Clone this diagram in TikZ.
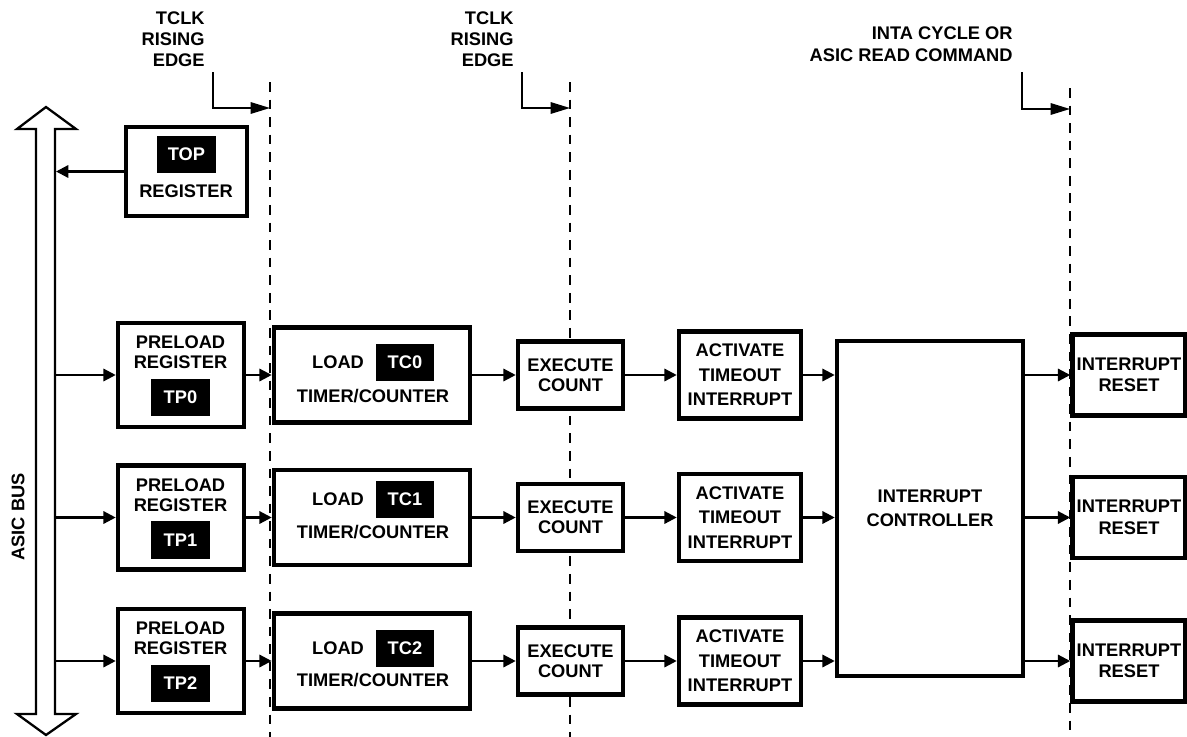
\documentclass[tikz,border=0pt]{standalone}
\usepackage{fontspec}
\setmainfont{Liberation Sans}
\usetikzlibrary{arrows.meta}
\newcommand\diaglbl{\bfseries\fontsize{10.4}{11.3}\selectfont}
\begin{document}
\begin{tikzpicture}[x=0.02cm,y=-0.02cm,
  box/.style={draw,line width=2.6pt,fill=white,inner sep=0pt,align=center,font=\diaglbl},
  txt/.style={inner sep=0pt,align=center,font=\diaglbl},
  tag/.style={fill=black,text=white,inner sep=0pt,font=\diaglbl,minimum width=1.18cm,minimum height=0.75cm},
  arr/.style={line width=1.3pt,-{Triangle[length=7pt,width=7pt]}},
  bent/.style={line width=1.0pt,-{Triangle[length=11pt,width=6.5pt]}},
  clk/.style={line width=0.8pt,dash pattern=on 5.5pt off 4.5pt},
  bus/.style={line width=1.3pt,line join=miter}
]
\useasboundingbox (0,0) rectangle (1187,737);

% timing lines
\coordinate (d1t) at (270,82);  \coordinate (d1b) at (270,737);
\coordinate (d2t) at (570,82);  \coordinate (d2b) at (570,737);
\coordinate (d3t) at (1070,88); \coordinate (d3b) at (1070,737);
\draw[clk] (d1t) -- (d1b);
\draw[clk] (d2t) -- (d2b);
\draw[clk] (d3t) -- (d3b);

% timing labels
\node[txt,align=right,anchor=east,font={\bfseries\fontsize{10.4}{11.9}\selectfont}] (lab1) at (205,39) {TCLK\\RISING\\EDGE};
\node[txt,align=right,anchor=east,font={\bfseries\fontsize{10.4}{11.9}\selectfont}] (lab2) at (514,39) {TCLK\\RISING\\EDGE};
\node[txt,align=right,anchor=east,font={\bfseries\fontsize{10.4}{12.5}\selectfont}] (lab3) at (1013,44) {INTA CYCLE OR\\ASIC READ COMMAND};
\coordinate (k1) at (213,72); \coordinate (k1e) at (270,108);
\coordinate (k2) at (522,72); \coordinate (k2e) at (570,108);
\coordinate (k3) at (1022,72); \coordinate (k3e) at (1070,109);
\draw[bent] (k1) |- (k1e);
\draw[bent] (k2) |- (k2e);
\draw[bent] (k3) |- (k3e);

% ASIC bus
\draw[bus] (46,107) -- (76,129) -- (55,129) -- (55,714) -- (76,714) -- (46,735)
  -- (17,714) -- (36,714) -- (36,129) -- (17,129) -- cycle;
\node[txt,rotate=90] (asic) at (18,517) {ASIC BUS};

% TOP register
\node[box,minimum width=2.42cm,minimum height=1.78cm] (top) at (186.5,171.5) {};
\node[tag] (toptag) at (186.5,154.5) {TOP};
\node[txt] (topreg) at (186,191) {REGISTER};
\coordinate (bt) at (56,171.5);
\draw[arr] (top.west) -- (bt);

% rows
\foreach \i/\y/\lo/\to in {0/375/-12.5/21.5, 1/517.5/-18.5/14.5, 2/661/-12.5/19.5}{
  \coordinate (b\i) at (56,\y);
  \node[box,minimum width=2.52cm,minimum height=2.08cm] (p\i) at (181,\y) {};
  \node[txt] (pt\i) at (180.5,\y-22.5) {PRELOAD\\REGISTER};
  \node[tag] (tp\i) at (180.5,\y+22.5) {TP\i};
  \node[box,minimum width=3.92cm,minimum height=1.90cm] (l\i) at (372,\y) {};
  \node[txt] (ld\i) at (338,\y+\lo) {LOAD};
  \node[tag,minimum width=1.16cm,minimum height=0.74cm] (tc\i) at (405,\y+\lo) {TC\i};
  \node[txt] (tm\i) at (373,\y+\to) {TIMER/COUNTER};
  \node[box,minimum width=2.10cm,minimum height=1.34cm] (e\i) at (570.5,\y) {EXECUTE\\COUNT};
  \node[box,minimum width=2.44cm,minimum height=1.74cm,font={\bfseries\fontsize{10.4}{13.9}\selectfont}] (a\i) at (740,\y) {ACTIVATE\\TIMEOUT\\INTERRUPT};
  \node[box,minimum width=2.26cm,minimum height=1.62cm,font={\bfseries\fontsize{10.4}{12.2}\selectfont}] (r\i) at (1129,\y) {INTERRUPT\\RESET};
  \draw[arr] (b\i) -- (p\i.west);
  \draw[arr] (p\i.east) -- (l\i.west);
  \draw[arr] (l\i.east) -- (e\i.west);
  \draw[arr] (e\i.east) -- (a\i.west);
}
\node[box,minimum width=3.72cm,minimum height=6.70cm,font={\bfseries\fontsize{10.4}{13.6}\selectfont}] (ctrl) at (930,508.5) {INTERRUPT\\CONTROLLER};
\foreach \i in {0,1,2}{
  \draw[arr] (a\i.east) -- (a\i.east -| ctrl.west);
  \draw[arr] (r\i.west -| ctrl.east) -- (r\i.west);
}
\end{tikzpicture}
\end{document}
